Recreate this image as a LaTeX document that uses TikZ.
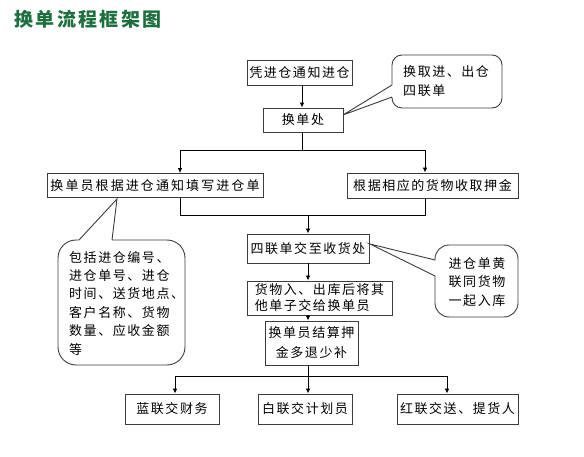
\documentclass[tikz,border=0pt]{standalone}
\usepackage{fontspec}
\usetikzlibrary{arrows.meta}
\newfontfamily\cjk[LetterSpace=12]{Noto Sans CJK SC}
\newfontfamily\cjkw[LetterSpace=16]{Noto Sans CJK SC}
\newfontfamily\cjkt[LetterSpace=12]{Noto Sans CJK SC}
\definecolor{ttl}{RGB}{28,112,62}
\definecolor{edge}{RGB}{60,60,60}
\begin{document}
\begin{tikzpicture}[x=1pt,y=-1pt,
  box/.style={draw=edge,line width=0.9pt,inner sep=0pt,font=\cjk\fontsize{13}{16}\selectfont},
  arr/.style={line width=0.8pt,-{Latex[length=5pt,width=4.5pt]}},
  ln/.style={line width=0.8pt},
  bubble/.style={draw=edge,line width=0.9pt},
  btxt/.style={font=\cjk\fontsize{13}{18.4}\selectfont,inner sep=0pt}]
\useasboundingbox (0,0) rectangle (584,457);
% title
\node[font=\cjkt\bfseries\fontsize{19}{22}\selectfont,text=ttl,inner sep=0pt] (title) at (88,19) {换单流程框架图};
% boxes
\node[box,minimum width=105pt,minimum height=25pt] (b1) at (299.5,72.5) {凭进仓通知进仓};
\node[box,minimum width=80pt,minimum height=24pt] (b2) at (303,120) {换单处};
\node[box,font=\cjkw\fontsize{13}{16}\selectfont,minimum width=216pt,minimum height=24pt] (lb) at (155,185.5) {换单员根据进仓通知填写进仓单};
\node[box,minimum width=171pt,minimum height=25pt] (rb) at (432.5,185.5) {根据相应的货物收取押金};
\node[box,minimum width=122pt,minimum height=29pt] (b4) at (308,248.5) {四联单交至收货处};
\node[box,align=left,minimum width=145pt,minimum height=34pt] (b5) at (319.5,298) {货物入、出库后将其\\他单子交给换单员};
\node[box,align=center,font=\cjk\fontsize{13}{20}\selectfont,minimum width=93pt,minimum height=44pt] (b6) at (311.5,343) {换单员结算押\\金多退少补};
\node[box,minimum width=94pt,minimum height=30pt] (o1) at (172,409) {蓝联交财务};
\node[box,minimum width=94pt,minimum height=30pt] (o2) at (305,409) {白联交计划员};
\node[box,minimum width=121pt,minimum height=30pt] (o3) at (457.5,409) {红联交送、提货人};
% connectors
\coordinate (c0) at (302,150);
\coordinate (cl) at (180,150);
\coordinate (cr) at (425,150);
\draw[arr] (b1.south -| c0) -- (b2.north -| c0);
\draw[ln] (b2.south -| c0) -- (c0);
\draw[ln] (cl) -- (cr);
\draw[arr] (cl) -- (cl |- lb.north);
\draw[arr] (cr) -- (cr |- rb.north);
\coordinate (dl) at (180,215);
\coordinate (dr) at (425,215);
\coordinate (dm) at (308,215);
\draw[ln] (dl |- lb.south) -- (dl) -- (dr) -- (dr |- rb.south);
\draw[arr] (dm) -- (dm |- b4.north);
\draw[arr] (b4.south -| dm) -- (b5.north -| dm);
\draw[arr] (b5.south -| dm) -- (b6.north -| dm);
\coordinate (em) at (308,376);
\coordinate (el) at (175,376);
\coordinate (er) at (447,376);
\draw[ln] (b6.south -| em) -- (em);
\draw[ln] (el) -- (er);
\draw[arr] (el) -- (el |- o1.north);
\draw[arr] (em) -- (em |- o2.north);
\draw[arr] (er) -- (er |- o3.north);
% callouts
\draw[bubble] (392,97) -- (343,115) -- (392,85) [rounded corners=10pt] -- (392,55) -- (502,55) -- (502,108) -- (392,108) -- (392,97);
\node[btxt,anchor=west,align=left] (t1) at (403,81) {换取进、出仓\\四联单};
\draw[bubble] (112,240) -- (117,199) -- (79,240) [rounded corners=18pt] -- (58,240) -- (58,365) -- (185,365) -- (185,240) -- (112,240);
\node[btxt,anchor=north west,align=left] (t2) at (69,251) {包括进仓编号、\\进仓单号、进仓\\时间、送货地点、\\客户名称、货物\\数量、应收金额\\等};
\draw[bubble] (435,276) -- (370,244) -- (435,260) [rounded corners=14pt] -- (435,245) -- (518,245) -- (518,317) -- (435,317) -- (435,276);
\node[btxt,align=center] (t3) at (477,282) {进仓单黄\\联同货物\\一起入库};
\end{tikzpicture}
\end{document}
